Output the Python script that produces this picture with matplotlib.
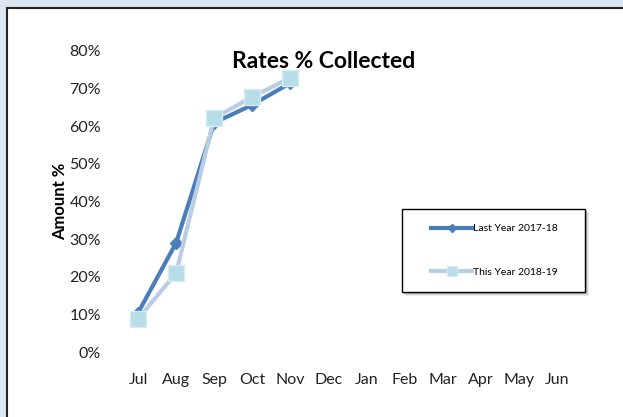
import matplotlib
matplotlib.use("Agg")
import matplotlib.pyplot as plt
from matplotlib.patches import Rectangle
from matplotlib.ticker import PercentFormatter
from matplotlib.legend_handler import HandlerLine2D

months = ["Jul", "Aug", "Sep", "Oct", "Nov", "Dec", "Jan", "Feb", "Mar", "Apr", "May", "Jun"]
last_year = [0.104, 0.29, 0.609, 0.657, 0.715]
this_year = [0.088, 0.21, 0.622, 0.678, 0.729]
yticks = [0, 0.1, 0.2, 0.3, 0.4, 0.5, 0.6, 0.7, 0.8]

plt.rcParams['font.family'] = ['Lato', 'DejaVu Sans']

W, H = 623, 417
fig = plt.figure(figsize=(W / 100, H / 100), dpi=100)
fig.patch.set_facecolor('#dce6f1')
fig.patches.append(Rectangle((7 / W, -0.01), 1, 1.01 - 8 / H, transform=fig.transFigure,
                             facecolor='white', edgecolor='#222222', linewidth=1.5, zorder=-5))

AL, AR, AB, AT = 119, 576, 352, 51
ax = fig.add_axes([AL / W, 1 - AB / H, (AR - AL) / W, (AB - AT) / H])
ax.set_zorder(2)
ax.set_facecolor('none')
x = list(range(len(months)))
l1, = ax.plot(x[:len(last_year)], last_year, color='#4a7ebb', linewidth=3, marker='D',
              markersize=6, markerfacecolor='#4a7ebb', markeredgecolor='#4a7ebb',
              label='Last Year 2017-18', zorder=3)
l2, = ax.plot(x[:len(this_year)], this_year, color='#b9cde5', linewidth=3, marker='s',
              markersize=11, markerfacecolor='#b7dde8', markeredgecolor='#d6ecf2',
              label='This Year 2018-19', zorder=4)

ax.set_xlim(-0.5, 11.5)
ax.set_ylim(0, 0.8)
ax.set_xticks(x)
ax.set_xticklabels(months)
ax.set_yticks(yticks)
ax.yaxis.set_major_formatter(PercentFormatter(1.0, decimals=0))
for s in ax.spines.values():
    s.set_visible(False)
ax.tick_params(length=0, labelsize=11.5, colors='#222222')
ax.tick_params(axis='x', pad=15)
ax.tick_params(axis='y', pad=13)
ax.set_ylabel('Amount %', fontsize=12, fontweight='bold', labelpad=1)

def fx(px):
    return (px - AL) / (AR - AL)

def fy(py):
    return (AB - py) / (AB - AT)

ax.text(fx(324), fy(62), 'Rates % Collected', fontsize=16.5, fontweight='bold',
        ha='center', va='center', transform=ax.transAxes)

# legend box with shadow
bx0, bx1, by0, by1 = 402, 585, 209, 292
for i, c in enumerate(['#ececec', '#d2d2d2', '#b4b4b4']):
    off = 4 - i
    ax.add_patch(Rectangle((fx(bx0 + off), fy(by1 + off)), fx(bx1 + off) - fx(bx0 + off),
                           fy(by0 + off) - fy(by1 + off), transform=ax.transAxes,
                           facecolor=c, edgecolor='none', zorder=5, clip_on=False))
ax.add_patch(Rectangle((fx(bx0), fy(by1)), fx(bx1) - fx(bx0), fy(by0) - fy(by1),
                       transform=ax.transAxes, facecolor='white', edgecolor='black',
                       linewidth=1, zorder=6, clip_on=False))

def small(ms):
    def upd(legline, orig):
        legline.update_from(orig)
        legline.set_markersize(ms)
    return HandlerLine2D(update_func=upd)

leg = ax.legend(loc='center', bbox_to_anchor=(fx((bx0 + bx1) / 2 + 1), fy((by0 + by1) / 2)),
                fontsize=7.5, frameon=False, handlelength=4.0, labelspacing=3.3,
                borderaxespad=0, handletextpad=0.1,
                handler_map={l1: small(4), l2: small(7)})
leg.set_zorder(7)

fig.savefig('out.png', dpi=100)
